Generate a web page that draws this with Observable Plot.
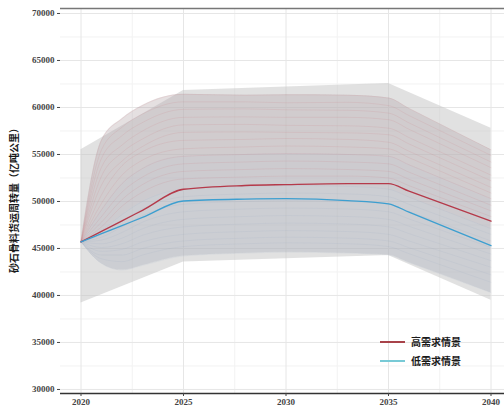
<!DOCTYPE html>
<html><head><meta charset="utf-8">
<script src="https://cdn.jsdelivr.net/npm/d3@7"></script>
<script src="https://cdn.jsdelivr.net/npm/@observablehq/plot@0.6"></script>
<style>
body{margin:0;background:#fff;}
#wrap{position:relative;width:504px;height:408px;overflow:hidden;background:#fff;}
.ytitle{position:absolute;left:-86px;top:192px;width:200px;height:12px;line-height:12px;text-align:center;transform:rotate(-90deg);font-family:"Noto Sans CJK SC";font-weight:bold;font-size:10px;color:#1a1a1a;white-space:nowrap;}
.legline{position:absolute;left:380px;width:25px;}
.legtxt{position:absolute;left:411px;height:12px;line-height:12px;font-family:"Noto Sans CJK SC";font-weight:bold;font-size:10px;color:#1a1a1a;white-space:nowrap;}
</style></head>
<body><div id="wrap"></div>
<script>
// ---- data ----
const years = [2020, 2021, 2022, 2023, 2025, 2028, 2030, 2033, 2035, 2036, 2040];
const highDemand = [45700, 46820, 47940, 49060, 51300, 51700, 51800, 51900, 51900, 51100, 47900];
const lowDemand  = [45700, 46570, 47440, 48300, 50050, 50250, 50300, 50100, 49750, 48860, 45300];
const seriesNames = ["高需求情景", "低需求情景"];

// outer uncertainty band
const bandYears = [2020, 2025, 2035, 2040];
const bandUpper = [55500, 61800, 62550, 57800];
const bandLower = [39200, 43550, 44250, 39500];

// simulated paths (values at `years`)
const simHigh = [
  [45700, 56500, 58800, 60200, 61400, 61300, 61350, 61300, 61000, 59900, 55500],
  [45700, 55500, 57900, 59300, 60600, 60600, 60500, 60550, 60200, 59140, 54900],
  [45700, 54600, 57000, 58400, 59800, 59850, 59750, 59700, 59400, 58360, 54200],
  [45700, 53650, 56000, 57500, 58950, 59000, 58950, 58950, 58700, 57680, 53600],
  [45700, 52700, 55200, 56650, 58150, 58200, 58100, 58050, 57800, 56800, 52800],
  [45700, 51750, 54300, 55850, 57350, 57400, 57350, 57300, 57100, 56120, 52200],
  [45700, 50700, 53800, 55300, 56500, 56600, 56700, 56600, 56300, 55340, 51500],
  [45700, 49800, 52800, 54400, 55600, 55800, 55900, 55800, 55600, 54660, 50900],
  [45700, 49100, 51900, 53500, 54800, 55000, 55100, 55000, 54800, 53900, 50300],
  [45700, 48400, 51000, 52600, 54000, 54200, 54300, 54200, 54000, 53120, 49600],
  [45700, 47800, 50200, 51800, 53200, 53400, 53500, 53400, 53200, 52360, 49000],
  [45700, 47300, 49500, 51000, 52400, 52600, 52700, 52700, 52500, 51680, 48400]
];
const simLow = [
  [45700, 46900, 48600, 50000, 51300, 51600, 51700, 51600, 51300, 50460, 47100],
  [45700, 46500, 47900, 49200, 50500, 50800, 50900, 50800, 50500, 49700, 46500],
  [45700, 46200, 47300, 48500, 49700, 50000, 50100, 50000, 49700, 48920, 45800],
  [45700, 45900, 46700, 47800, 48900, 49200, 49300, 49200, 48900, 48140, 45100],
  [45700, 45500, 46100, 47100, 48100, 48400, 48500, 48400, 48100, 47360, 44400],
  [45700, 45100, 45500, 46400, 47300, 47600, 47700, 47600, 47300, 46580, 43700],
  [45700, 44700, 44900, 45700, 46500, 46800, 46900, 46800, 46500, 45800, 43000],
  [45700, 44300, 44300, 45000, 45800, 46100, 46200, 46100, 45800, 45080, 42200],
  [45700, 43900, 43600, 44300, 45200, 45500, 45600, 45500, 45200, 44440, 41400],
  [45700, 43400, 42700, 43200, 44200, 44500, 44600, 44500, 44300, 43500, 40300]
];

const xTicks = [2020, 2025, 2030, 2035, 2040];
const xMinor = [2022.5, 2027.5, 2032.5, 2037.5];
const yTicks = [30000, 35000, 40000, 45000, 50000, 55000, 60000, 65000, 70000];
const yMinor = [32500, 37500, 42500, 47500, 52500, 57500, 62500, 67500];
const xDomain = [2019, 2041];
const yDomain = [29570, 70530];

// ---- tables ----
const bandTable = bandYears.map((x, i) => ({x, lo: bandLower[i], hi: bandUpper[i]}));
const bundleTop = simHigh[0], bundleBottom = simLow[simLow.length - 1];
const bundleTable = years.map((x, i) => ({x, lo: bundleBottom[i], hi: bundleTop[i]}));
const redTint = years.map((x, i) => ({x, lo: simLow[0][i], hi: simHigh[0][i]}));
const blueTint = years.map((x, i) => ({x, lo: simLow[simLow.length-1][i], hi: simHigh[8][i]}));
const simTable = [];
simHigh.forEach((s, k) => s.forEach((v, i) => simTable.push({x: years[i], y: v, id: "h" + k, g: "h"})));
simLow.forEach((s, k) => s.forEach((v, i) => simTable.push({x: years[i], y: v, id: "l" + k, g: "l"})));
const mainTable = [];
highDemand.forEach((v, i) => mainTable.push({x: years[i], y: v, s: seriesNames[0]}));
lowDemand.forEach((v, i) => mainTable.push({x: years[i], y: v, s: seriesNames[1]}));

const curve = "monotone-x";
const chart = Plot.plot({
  width: 504, height: 408,
  marginLeft: 60, marginRight: 0, marginTop: 8, marginBottom: 15,
  x: {domain: xDomain, range: [60, 511]},
  y: {domain: yDomain, range: [393, 8]},
  style: {background: "#fff", overflow: "hidden"},
  marks: [
    Plot.ruleY(yMinor, {stroke: "#f2f2f2", strokeWidth: 1}),
    Plot.ruleX(xMinor, {stroke: "#f2f2f2", strokeWidth: 1}),
    Plot.ruleY(yTicks, {stroke: "#e6e6e6", strokeWidth: 1}),
    Plot.ruleX(xTicks, {stroke: "#e6e6e6", strokeWidth: 1}),
    Plot.areaY(bandTable, {x: "x", y1: "lo", y2: "hi", fill: "#c4c4c4", fillOpacity: 0.5}),
    Plot.areaY(bundleTable, {x: "x", y1: "lo", y2: "hi", fill: "#a8a8ae", fillOpacity: 0.3, curve}),
    Plot.areaY(redTint, {x: "x", y1: "lo", y2: "hi", fill: "#e0a0ac", fillOpacity: 0.08, curve}),
    Plot.areaY(blueTint, {x: "x", y1: "lo", y2: "hi", fill: "#a0c4e0", fillOpacity: 0.08, curve}),
    Plot.line(simTable, {x: "x", y: "y", z: "id", curve, strokeWidth: 0.5,
      stroke: d => d.g === "h" ? "#c85868" : "#7090b4",
      strokeOpacity: d => d.g === "h" ? 0.22 : 0.16}),
    Plot.line(mainTable, {x: "x", y: "y", z: "s", curve, strokeWidth: 1.3,
      stroke: d => d.s === seriesNames[0] ? "#b53a4a" : "#3d9fd0"}),
    Plot.ruleY([yDomain[1]], {stroke: "#777", strokeWidth: 1.3}),
    Plot.ruleY([yDomain[0]], {stroke: "#333", strokeWidth: 1.3}),
    Plot.axisX(xTicks, {tickSize: 3, tickPadding: 2, tickFormat: d => String(d), label: null,
      fontFamily: "Liberation Serif", fontSize: 9, fontWeight: "bold", color: "#444"}),
    Plot.axisY(yTicks, {tickSize: 3, tickPadding: 3, tickFormat: d => String(d), label: null,
      fontFamily: "Liberation Serif", fontSize: 9, fontWeight: "bold", color: "#444"})
  ]
});
const wrap = document.getElementById("wrap");
wrap.appendChild(chart);

const t = document.createElement("div");
t.className = "ytitle";
t.textContent = "砂石骨料货运周转量（亿吨公里）";
wrap.appendChild(t);

const legColors = ["#a8434a", "#78cad6"];
const legY = [342, 361];
const legW = [1.2, 2];
seriesNames.forEach((name, i) => {
  const l = document.createElement("div");
  l.className = "legline";
  l.style.top = (legY[i] - legW[i] / 2) + "px";
  l.style.height = legW[i] + "px";
  l.style.background = legColors[i];
  wrap.appendChild(l);
  const tx = document.createElement("div");
  tx.className = "legtxt";
  tx.style.top = (legY[i] - 6) + "px";
  tx.textContent = name;
  wrap.appendChild(tx);
});
</script>
</body></html>
